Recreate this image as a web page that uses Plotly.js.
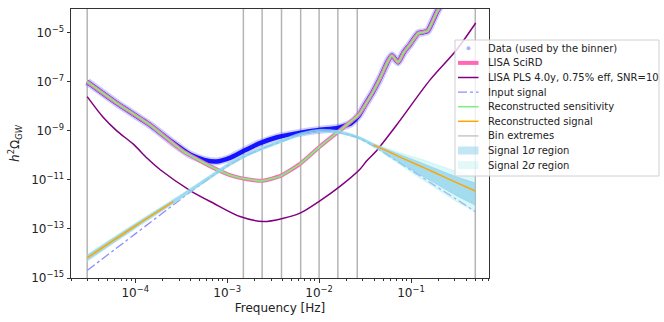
<!DOCTYPE html>
<html>
<head>
<meta charset="utf-8">
<script src="https://cdn.plot.ly/plotly-3.0.1.min.js"></script>
<style>
  html, body { margin: 0; padding: 0; background: #fff; }
  #chart { width: 664px; height: 322px; }
</style>
</head>
<body>
<div id="chart"></div>
<script>
// values
const binEdges = [3e-5, 1.5e-3, 2.4e-3, 3.9e-3, 6.3e-3, 1e-2, 1.6e-2, 2.6e-2, 0.5];

const dataFreq = [3e-5, 6.3e-5, 1.45e-4, 2.5e-4, 4e-4, 5.6e-4, 7.6e-4, 1.07e-3, 1.5e-3, 2.2e-3,
  3.5e-3, 6.3e-3, 1e-2, 1.6e-2, 2.2e-2, 2.7e-2, 3.16e-2, 3.8e-2, 4.47e-2, 5.01e-2, 5.62e-2,
  6.17e-2, 7.24e-2, 8.32e-2, 9.77e-2, 0.12, 0.135, 0.152, 0.19, 0.214];
const dataVal = [1e-7, 1.35e-8, 1.74e-9, 3.55e-10, 1.05e-10, 6.6e-11, 5.6e-11, 7.9e-11, 1.5e-10, 3e-10,
  5.5e-10, 8.5e-10, 1.1e-9, 1.32e-9, 2.0e-9, 4.2e-9, 1.15e-8, 3.55e-8, 1.12e-7, 2.82e-7, 7.08e-7,
  1.2e-6, 6.3e-7, 1.58e-6, 3.4e-6, 9.6e-6, 1.05e-5, 1.2e-5, 6.8e-5, 1.45e-4];

const sensFreq = [3e-5, 6.3e-5, 1.45e-4, 3.35e-4, 7.1e-4, 1.07e-3, 1.64e-3, 2.45e-3, 3.8e-3, 6.2e-3,
  1.02e-2, 1.62e-2, 2.69e-2, 3.16e-2, 3.8e-2, 4.47e-2, 5.01e-2, 5.62e-2, 6.17e-2, 7.24e-2,
  8.32e-2, 9.77e-2, 0.12, 0.135, 0.152, 0.19, 0.214];
const sensVal = [1e-7, 1.35e-8, 1.74e-9, 1.45e-10, 3.09e-11, 1.58e-11, 1.07e-11, 9.3e-12, 1.45e-11, 4.5e-11,
  2.3e-10, 9.3e-10, 4.47e-9, 1.12e-8, 3.55e-8, 1.12e-7, 2.82e-7, 7.08e-7, 1.2e-6, 6.3e-7,
  1.58e-6, 3.4e-6, 9.6e-6, 1.05e-5, 1.2e-5, 6.8e-5, 1.45e-4];

const plsFreq = [3e-5, 4.5e-5, 6.3e-5, 9.6e-5, 1.35e-4, 1.87e-4, 4e-4, 7.1e-4, 1.38e-3, 2.48e-3,
  4.1e-3, 6.2e-3, 1.02e-2, 1.7e-2, 2.8e-2, 3.3e-2, 4.24e-2, 7e-2, 0.161, 0.314, 0.505];
const plsVal = [2.5e-8, 3.5e-9, 1e-9, 2.8e-10, 7.6e-11, 2.6e-11, 3.6e-12, 1.12e-12, 3.2e-13, 2e-13,
  2.75e-13, 4.4e-13, 1.4e-12, 5.6e-12, 2.8e-11, 6e-11, 1.6e-10, 1.78e-9, 1.2e-7, 2.04e-6, 2.5e-5];

const sigFreq = [3e-5, 1e-4, 3.2e-4, 6.3e-4, 1e-3, 1.6e-3, 2.4e-3, 3.9e-3, 6.3e-3, 1e-2,
  1.7e-2, 2.7e-2, 3.9e-2, 6e-2, 7.6e-2, 0.12, 0.18, 0.3, 0.5];
const inputVal = [2.04e-15, 6.3e-14, 1.74e-12, 1.12e-11, 3.55e-11, 9.5e-11, 1.86e-10, 3.7e-10, 7.1e-10, 9.5e-10,
  8.3e-10, 5e-10, 2.4e-10, 8.5e-11, 4.8e-11, 1.62e-11, 6e-12, 1.78e-12, 5.1e-13];
const sig1Up = [8.3e-15, 1.58e-13, 2.5e-12, 1.35e-11, 4.3e-11, 1.1e-10, 2.1e-10, 4.2e-10, 7.9e-10, 1.1e-9,
  9.5e-10, 5.75e-10, 2.95e-10, 1.51e-10, 1.07e-10, 5.5e-11, 3.0e-11, 1.41e-11, 7.4e-12];
const sig1Lo = [5.2e-15, 1.1e-13, 1.9e-12, 1.07e-11, 3.4e-11, 9.1e-11, 1.74e-10, 3.5e-10, 6.6e-10, 9.1e-10,
  7.9e-10, 4.8e-10, 2.4e-10, 8.9e-11, 5.0e-11, 1.78e-11, 7.6e-12, 2.5e-12, 9.5e-13];
const sig2Up = [9.3e-15, 1.74e-13, 2.7e-12, 1.45e-11, 4.5e-11, 1.15e-10, 2.2e-10, 4.4e-10, 8.3e-10, 1.15e-9,
  1.0e-9, 6.0e-10, 3.16e-10, 1.74e-10, 1.26e-10, 7.6e-11, 4.5e-11, 2.34e-11, 1.35e-11];
const sig2Lo = [4.7e-15, 1.0e-13, 1.78e-12, 1.0e-11, 3.2e-11, 8.7e-11, 1.66e-10, 3.3e-10, 6.3e-10, 8.7e-10,
  7.6e-10, 4.6e-10, 2.24e-10, 7.6e-11, 4.2e-11, 1.32e-11, 5.0e-12, 1.45e-12, 5.1e-13];

// reconstructed signal is only visible outside the band in the reference
const recFreq = [3e-5, 1e-4, 2.6e-4, 3e-3, 3.9e-2, 6e-2, 7.6e-2, 0.12, 0.18, 0.3, 0.5];
const recVal = [6.6e-15, 1.32e-13, 1.3e-12, null, 2.69e-10, 1.29e-10, 8.5e-11, 3.98e-11, 2.0e-11, 8.3e-12, 3.55e-12];

const xTicks = [1e-4, 1e-3, 1e-2, 1e-1];
const xTickText = ["10<sup>−4</sup>", "10<sup>−3</sup>", "10<sup>−2</sup>", "10<sup>−1</sup>"];
const yTicks = [1e-15, 1e-13, 1e-11, 1e-9, 1e-7, 1e-5];
const yTickText = ["10<sup>−15</sup>", "10<sup>−13</sup>", "10<sup>−11</sup>", "10<sup>−9</sup>", "10<sup>−7</sup>", "10<sup>−5</sup>"];

const legendItems = [
  { name: "Data (used by the binner)", kind: "dot", color: "rgba(120,120,255,0.6)" },
  { name: "LISA SciRD", kind: "line", color: "#ff69b4", width: 4 },
  { name: "LISA PLS 4.0y, 0.75% eff, SNR=10", kind: "line", color: "#800080", width: 1.5 },
  { name: "Input signal", kind: "line", color: "#8c8cff", width: 1.3, dash: "dashdot" },
  { name: "Reconstructed sensitivity", kind: "line", color: "#7af07a", width: 1.5 },
  { name: "Reconstructed signal", kind: "line", color: "#ffa500", width: 1.5 },
  { name: "Bin extremes", kind: "line", color: "#c8c8c8", width: 1.5 },
  { name: "Signal 1<i>σ</i> region", kind: "box", color: "rgba(135,206,235,0.5)" },
  { name: "Signal 2<i>σ</i> region", kind: "box", color: "rgba(175,238,238,0.35)" },
];

const font = "DejaVu Sans, sans-serif";
const smooth = { shape: "spline", smoothing: 0.8 };
const smoothSens = { shape: "spline", smoothing: 0.5 };

const minorX = [];
for (let e = -5; e <= -1; e++) {
  for (let d = 2; d <= 9; d++) minorX.push(d * Math.pow(10, e));
}

const traces = [
  {
    x: dataFreq, y: dataVal, mode: "lines", showlegend: false, hoverinfo: "skip",
    line: { color: "rgba(90,90,255,0.3)", width: 8, ...smoothSens },
  },
  {
    x: dataFreq, y: dataVal, mode: "lines", showlegend: false,
    line: { color: "rgba(0,0,255,0.9)", width: 4.5, ...smoothSens },
  },
  {
    x: sensFreq, y: sensVal, mode: "lines", name: "LISA SciRD",
    line: { color: "#ff69b4", width: 4, ...smoothSens },
  },
  {
    x: plsFreq, y: plsVal, mode: "lines", name: "LISA PLS",
    line: { color: "#800080", width: 1.5, ...smooth },
  },
  {
    x: sigFreq, y: inputVal, mode: "lines", name: "Input signal",
    line: { color: "#8c8cff", width: 1.3, dash: "dashdot", ...smooth },
  },
  {
    x: sensFreq, y: sensVal, mode: "lines", name: "Reconstructed sensitivity",
    line: { color: "#7af07a", width: 1.8, ...smoothSens },
  },
  {
    x: sigFreq, y: sig2Lo, mode: "lines", showlegend: false,
    line: { color: "rgba(175,238,238,0.45)", width: 1, ...smooth },
  },
  {
    x: sigFreq, y: sig2Up, mode: "lines", fill: "tonexty", fillcolor: "rgba(175,238,238,0.45)",
    showlegend: false, line: { color: "rgba(175,238,238,0.45)", width: 1, ...smooth },
  },
  {
    x: sigFreq, y: sig1Lo, mode: "lines", showlegend: false,
    line: { color: "rgba(135,206,235,0.65)", width: 1, ...smooth },
  },
  {
    x: sigFreq, y: sig1Up, mode: "lines", fill: "tonexty", fillcolor: "rgba(135,206,235,0.65)",
    showlegend: false, line: { color: "rgba(135,206,235,0.65)", width: 1, ...smooth },
  },
  {
    x: recFreq, y: recVal, mode: "lines", name: "Reconstructed signal", connectgaps: false,
    line: { color: "#ffa500", width: 1.5, ...smooth },
  },
];

// plot area in pixels: x 71..489, y 9..278
const pX = (px) => (px - 71) / 418;
const pY = (py) => (278 - py) / 269;

const shapes = binEdges.map((f) => ({
  type: "line", xref: "x", yref: "paper", x0: f, x1: f, y0: 0, y1: 1,
  line: { color: "#b4b4b4", width: 1.5 }, layer: "below",
}));

shapes.push({
  type: "rect", xref: "paper", yref: "paper",
  x0: pX(455), x1: pX(659), y0: pY(176), y1: pY(40),
  fillcolor: "rgba(255,255,255,0.8)", line: { color: "#d0d0d0", width: 1 }, layer: "above",
});

const annotations = [];
legendItems.forEach((item, i) => {
  const cy = 48.3 + i * 14.6;
  if (item.kind === "dot") {
    shapes.push({
      type: "circle", xref: "paper", yref: "paper",
      x0: pX(466.5), x1: pX(470.5), y0: pY(cy + 2), y1: pY(cy - 2),
      fillcolor: item.color, line: { width: 0 }, layer: "above",
    });
  } else if (item.kind === "line") {
    shapes.push({
      type: "line", xref: "paper", yref: "paper",
      x0: pX(458), x1: pX(478.5), y0: pY(cy), y1: pY(cy),
      line: { color: item.color, width: item.width, dash: item.dash || "solid" }, layer: "above",
    });
  } else {
    shapes.push({
      type: "rect", xref: "paper", yref: "paper",
      x0: pX(458), x1: pX(478.5), y0: pY(cy + 4), y1: pY(cy - 4),
      fillcolor: item.color, line: { width: 0 }, layer: "above",
    });
  }
  annotations.push({
    xref: "paper", yref: "paper", x: pX(486), y: pY(cy),
    xanchor: "left", yanchor: "middle", showarrow: false,
    text: item.name, font: { family: font, size: 10, color: "#222" },
  });
});

const axisCommon = {
  type: "log", showgrid: false, zeroline: false,
  showline: true, linecolor: "#333", linewidth: 1, mirror: true,
  ticks: "outside", ticklen: 3.5, tickwidth: 1, tickcolor: "#333",
  tickfont: { family: font, size: 12, color: "#222" },
};

const layout = {
  width: 664, height: 322,
  margin: { l: 71, r: 175, t: 9, b: 44 },
  paper_bgcolor: "#fff", plot_bgcolor: "#fff",
  font: { family: font, color: "#222" },
  showlegend: false,
  xaxis: {
    ...axisCommon,
    range: [Math.log10(2e-5), Math.log10(0.705)],
    tickmode: "array", tickvals: xTicks, ticktext: xTickText,
    minor: { tickmode: "array", tickvals: minorX, ticks: "outside", ticklen: 2, tickcolor: "#333", showgrid: false },
    title: { text: "Frequency [Hz]", font: { family: font, size: 12, color: "#222" }, standoff: 4 },
  },
  yaxis: {
    ...axisCommon,
    range: [-15, -4.03],
    tickmode: "array", tickvals: yTicks, ticktext: yTickText,
    title: { text: "<i>h</i><sup>2</sup>Ω<sub><i>GW</i></sub>", font: { family: font, size: 12, color: "#222" }, standoff: 8 },
  },
  shapes: shapes,
  annotations: annotations,
};

Plotly.newPlot("chart", traces, layout, { displayModeBar: false, staticPlot: true });
</script>
</body>
</html>
